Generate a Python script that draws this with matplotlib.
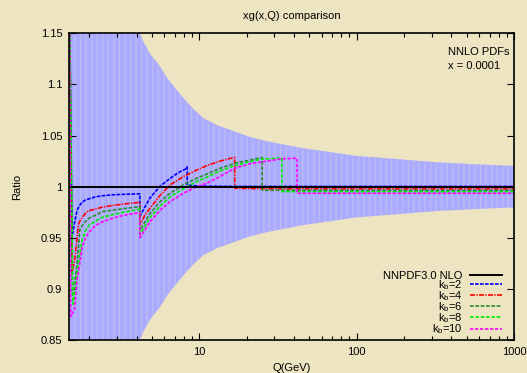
"""Gluon ratio xg(x,Q) vs Q for several b-threshold scale factors."""

import matplotlib

matplotlib.use("Agg")
import matplotlib.pyplot as plt
import numpy as np
from matplotlib.ticker import FixedLocator, LogLocator, NullFormatter

plt.rcParams["font.family"] = ["Liberation Sans", "DejaVu Sans"]
plt.rcParams["mathtext.fontset"] = "custom"
plt.rcParams["mathtext.rm"] = "Liberation Sans"
plt.rcParams["mathtext.default"] = "regular"
plt.rcParams["hatch.linewidth"] = 0.9

# ---- data -------------------------------------------------------------
# reference PDF uncertainty band (half width around 1)
band_q = [1.49, 4.04, 4.05, 4.4, 4.86, 5.63, 6.33, 7.18, 8.2, 9.16, 10.6,
          13.0, 16.9, 21.0, 27.7, 35.0, 45.4, 60.0, 100.0, 180.0, 324.0,
          550.0, 1000.0]
band_hw = [0.5, 0.5, 0.155, 0.142, 0.13, 0.1175, 0.105, 0.0946, 0.084,
           0.076, 0.067, 0.060, 0.0538, 0.0485, 0.044, 0.041, 0.0376, 0.035,
           0.030, 0.027, 0.0238, 0.022, 0.0203]

ref_q = [1.49, 1000.0]
ref_ratio = [1.0, 1.0]

# k_b = 2
kb2_q = [1.49, 1.55, 1.61, 1.67, 1.74, 1.80, 1.89, 1.98, 2.18, 2.41, 2.79, 3.3,
         3.8, 4.18, 4.19, 4.5, 4.86, 5.63, 6.51, 7.3, 8.11, 8.36, 8.37, 9.5,
         12.0, 20.0, 1000.0]
kb2_ratio = [1.20, 0.951, 0.965, 0.977, 0.982, 0.985, 0.987, 0.988, 0.990,
             0.991, 0.992, 0.9925, 0.9928, 0.993, 0.971, 0.980, 0.989, 1.0005,
             1.008, 1.0135, 1.017, 1.0193, 1.0017, 1.0008, 1.0004, 1.0002,
             1.0002]

# k_b = 4
kb4_q = [1.49, 1.55, 1.61, 1.67, 1.71, 1.80, 1.89, 1.98, 2.18, 2.41, 2.79, 3.3,
         3.8, 4.18, 4.19, 4.5, 4.86, 5.63, 6.51, 7.91, 9.63, 11.41, 13.54,
         16.75, 16.8, 30.0, 1000.0]
kb4_ratio = [1.20, 0.915, 0.928, 0.950, 0.964, 0.970, 0.974, 0.9765, 0.978,
             0.980, 0.9815, 0.983, 0.984, 0.9847, 0.962, 0.972, 0.979, 0.9915,
             1.0017, 1.0098, 1.0163, 1.0212, 1.025, 1.0287, 0.9984, 0.9978,
             0.9977]

# k_b = 6
kb6_q = [1.49, 1.56, 1.61, 1.67, 1.74, 1.80, 1.89, 1.98, 2.18, 2.41, 2.79, 3.3,
         3.8, 4.18, 4.19, 4.86, 5.63, 6.51, 7.91, 9.63, 11.41, 13.54, 16.8,
         21.0, 25.07, 25.1, 100.0, 1000.0]
kb6_ratio = [1.20, 0.895, 0.905, 0.925, 0.958, 0.962, 0.966, 0.969, 0.972,
             0.9755, 0.977, 0.9785, 0.9797, 0.9804, 0.957, 0.974, 0.9853,
             0.9935, 1.0017, 1.0082, 1.013, 1.018, 1.0229, 1.026, 1.0285,
             0.9965, 0.9962, 0.9962]

# k_b = 8
kb8_q = [1.49, 1.57, 1.61, 1.67, 1.74, 1.80, 1.89, 1.98, 2.18, 2.41, 2.79, 3.3,
         3.8, 4.18, 4.19, 4.86, 5.63, 6.51, 7.91, 9.63, 11.41, 13.54, 16.8,
         21.0, 25.1, 33.4, 33.5, 100.0, 1000.0]
kb8_ratio = [1.20, 0.885, 0.895, 0.915, 0.935, 0.948, 0.957, 0.962, 0.966,
             0.970, 0.9725, 0.975, 0.9767, 0.978, 0.953, 0.970, 0.981, 0.990,
             0.998, 1.005, 1.010, 1.0155, 1.0205, 1.0245, 1.027, 1.028,
             0.9952, 0.995, 0.995]

# k_b = 10
kb10_q = [1.49, 1.52, 1.61, 1.67, 1.74, 1.80, 1.89, 1.98, 2.18, 2.41, 2.79,
          3.3, 3.8, 4.18, 4.19, 4.86, 5.63, 6.51, 7.91, 9.63, 11.41, 13.54,
          16.8, 21.0, 28.1, 33.0, 41.7, 41.8, 100.0, 1000.0]
kb10_ratio = [1.20, 0.873, 0.880, 0.909, 0.926, 0.941, 0.950, 0.955, 0.962,
              0.9655, 0.969, 0.972, 0.9735, 0.9746, 0.950, 0.9658, 0.977,
              0.9853, 0.9935, 1.000, 1.004, 1.010, 1.018, 1.0225, 1.0254,
              1.0272, 1.0278, 0.9935, 0.9935, 0.9935]

y_ticks = [0.85, 0.9, 0.95, 1.0, 1.05, 1.1, 1.15]
y_labels = ["0.85", "0.9", "0.95", "1", "1.05", "1.1", "1.15"]
x_ticks = [10, 100, 1000]
x_labels = ["10", "100", "1000"]

# ---- figure -----------------------------------------------------------
paper = "#ede4c2"
fig = plt.figure(figsize=(5.27, 3.73), dpi=100, facecolor=paper)
ax = fig.add_axes([0.1315, 0.0885, 0.8438, 0.8222])
ax.set_facecolor("none")

bq = np.array(band_q)
bh = np.array(band_hw)
ax.fill_between(bq, 1.0 - bh, 1.0 + bh, facecolor="#aaaaff",
                edgecolor="#bcbcf3", hatch="|||", linewidth=0, zorder=1)

series = [
    (kb2_q, kb2_ratio, "#0000ff", (2.2, 0.8), r"k$_b$=2"),
    (kb4_q, kb4_ratio, "#ff0000", (3.0, 0.8, 0.8, 0.8), r"k$_b$=4"),
    (kb6_q, kb6_ratio, "#2d8a2d", (2.2, 1.0), r"k$_b$=6"),
    (kb8_q, kb8_ratio, "#00ee00", (2.2, 1.0), r"k$_b$=8"),
    (kb10_q, kb10_ratio, "#ff00ff", (2.0, 1.0), r"k$_b$=10"),
]

ax.plot(ref_q, ref_ratio, color="black", linewidth=1.4, zorder=4,
        label="NNPDF3.0 NLO")
for q, r, color, dash, label in series:
    ax.plot(q, r, color=color, linewidth=1.2, dashes=dash, zorder=3,
            label=label)

ax.set_xscale("log")
ax.set_xlim(1.49, 1000)
ax.set_ylim(0.85, 1.15)

ax.xaxis.set_major_locator(FixedLocator(x_ticks))
ax.set_xticklabels(x_labels)
ax.xaxis.set_minor_locator(LogLocator(base=10, subs=np.arange(2, 10)))
ax.xaxis.set_minor_formatter(NullFormatter())
ax.set_yticks(y_ticks)
ax.set_yticklabels(y_labels)

ax.tick_params(which="both", direction="in", top=True, right=True,
               labelsize=8, pad=5, width=0.8)
ax.tick_params(which="major", length=5)
ax.tick_params(which="minor", length=3)
for spine in ax.spines.values():
    spine.set_linewidth(1.2)
    spine.set_zorder(5)

leg = ax.legend(loc="lower right", bbox_to_anchor=(0.972, 0.012),
                frameon=False, markerfirst=False, fontsize=8,
                handlelength=2.8, handletextpad=0.7, labelspacing=-0.24,
                borderpad=0, borderaxespad=0)

ax.text(0.851, 0.94, "NNLO PDFs", transform=ax.transAxes, fontsize=8,
        va="center", ha="left")
ax.text(0.851, 0.892, "x = 0.0001", transform=ax.transAxes, fontsize=8,
        va="center", ha="left")

fig.text(0.5535, 1 - 16 / 373, "xg(x,Q) comparison", fontsize=8,
         ha="center", va="center")
fig.text(0.5535, 1 - 368 / 373, "Q(GeV)", fontsize=8, ha="center",
         va="center")
fig.text(17 / 527, 1 - 186.7 / 373, "Ratio", fontsize=8, rotation=90,
         ha="center", va="center")

fig.savefig("out.png", dpi=100, facecolor=paper)
